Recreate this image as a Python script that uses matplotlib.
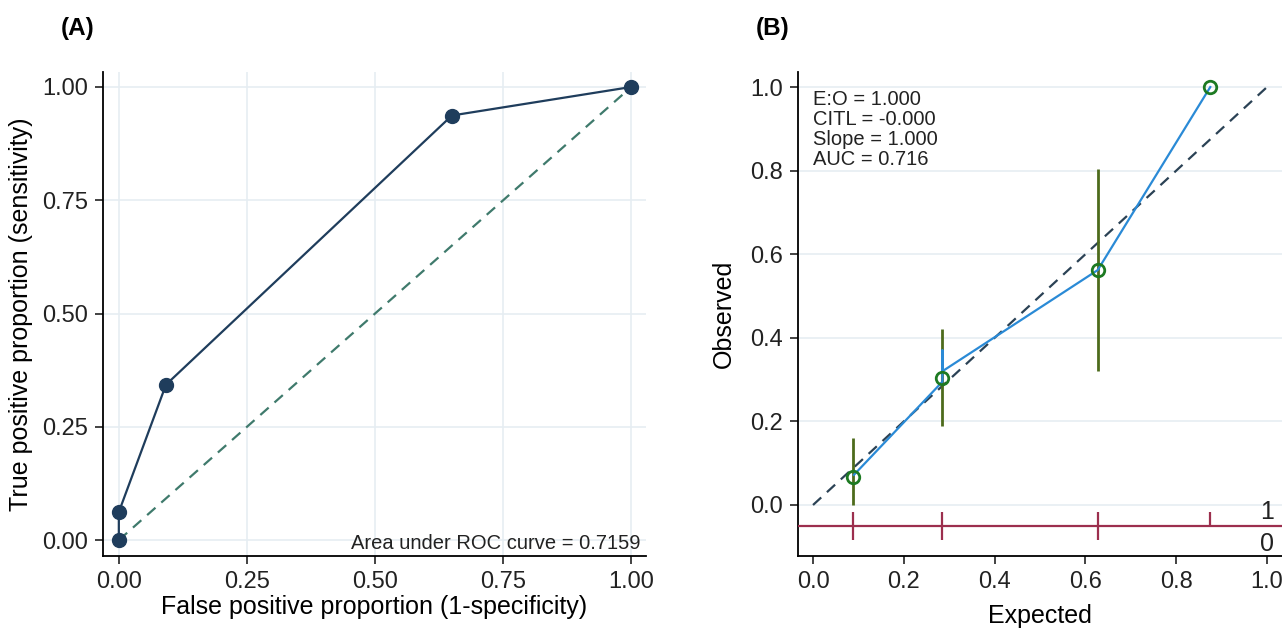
import numpy as np
import matplotlib
matplotlib.use('Agg')
from matplotlib import pyplot as plt

plt.rcParams['font.family'] = ['Liberation Sans', 'DejaVu Sans']

# ROC curve points (panel A)
rocFpr = [0.0, 0.0, 0.092, 0.65, 1.0]
rocTpr = [0.0, 0.062, 0.343, 0.937, 1.0]
rocTicks = [0.0, 0.25, 0.5, 0.75, 1.0]
rocTickLabels = ['0.00', '0.25', '0.50', '0.75', '1.00']
aucText = 'Area under ROC curve = 0.7159'

# calibration groups (panel B)
calExpected = [0.087, 0.285, 0.627, 0.875]
calObserved = [0.068, 0.305, 0.562, 1.0]
ciLow = [0.0, 0.19, 0.32]
ciHigh = [0.16, 0.42, 0.805]
# smoothed line as drawn in the picture
smoothX = [0.09, 0.285, 0.285, 0.285, 0.627, 0.875]
smoothY = [0.072, 0.295, 0.37, 0.32, 0.562, 1.0]
# rug of predicted risks, outcome 1 above, outcome 0 below
rugOne = [0.087, 0.285, 0.627, 0.875]
rugZero = [0.087, 0.285, 0.627]
calStats = ['E:O = 1.000', 'CITL = -0.000', 'Slope = 1.000', 'AUC = 0.716']
calTicks = [0.0, 0.2, 0.4, 0.6, 0.8, 1.0]

gridColor = '#e6edf2'
tickSize = 17
labelSize = 18
noteSize = 14.5

fig = plt.figure(figsize=(12.82, 6.30), dpi=100)

# ---------- panel A ----------
ax1 = fig.add_axes([0.0803, 0.1175, 0.4237, 0.7682])
ax1.set_xlim(-0.031, 1.029)
ax1.set_ylim(-0.035, 1.033)
for t in rocTicks:
    ax1.axhline(t, color=gridColor, lw=1.2, zorder=0)
    ax1.axvline(t, color=gridColor, lw=1.2, zorder=0)
ax1.plot([0, 1], [0, 1], color='#3f7a6c', lw=1.6, ls=(0, (5, 3.5)), zorder=2)
ax1.plot(rocFpr, rocTpr, color='#1f3d5c', lw=1.6, marker='o', markersize=10, zorder=3)
ax1.text(1.018, -0.008, aucText, ha='right', va='center', fontsize=noteSize, color='#222222')
ax1.set_xticks(rocTicks)
ax1.set_xticklabels(rocTickLabels)
ax1.set_yticks(rocTicks)
ax1.set_yticklabels(rocTickLabels)
ax1.set_xlabel('False positive proportion (1-specificity)', fontsize=labelSize, labelpad=1)
ax1.set_ylabel('True positive proportion (sensitivity)', fontsize=labelSize, labelpad=6)
fig.text(0.0475, 0.955, '(A)', fontsize=17.5, fontweight='bold', va='center')

# ---------- panel B ----------
ax2 = fig.add_axes([0.6225, 0.1175, 0.3775, 0.7682])
ax2.set_xlim(-0.033, 1.033)
ax2.set_ylim(-0.122, 1.036)
for t in calTicks:
    ax2.axhline(t, color=gridColor, lw=1.2, zorder=0)
ax2.plot([0, 1], [0, 1], color='#2b4255', lw=1.6, ls=(0, (5, 3.5)), zorder=2)
ax2.vlines(calExpected[:3], ciLow, ciHigh, color='#4d6b1c', lw=2, zorder=3)
ax2.plot(smoothX, smoothY, color='#2a8ad6', lw=1.6, zorder=4)
ax2.plot(calExpected, calObserved, ls='none', marker='o', markersize=9,
         markerfacecolor='none', markeredgecolor='#1d7a22', markeredgewidth=2, zorder=5)
ax2.axhline(-0.05, color='#9c2f4e', lw=1.6, zorder=3)
ax2.vlines(rugOne, -0.05, -0.017, color='#9c2f4e', lw=1.6, zorder=3)
ax2.vlines(rugZero, -0.084, -0.05, color='#9c2f4e', lw=1.6, zorder=3)
ax2.text(1.0, -0.017, '1', ha='center', va='center', fontsize=labelSize, color='#222222')
ax2.text(1.0, -0.094, '0', ha='center', va='center', fontsize=labelSize, color='#222222')
for i, s in enumerate(calStats):
    ax2.text(0.0, 0.970 - i * 0.048, s, ha='left', va='center', fontsize=noteSize, color='#222222')
ax2.set_xticks(calTicks)
ax2.set_xticklabels(['%.1f' % t for t in calTicks])
ax2.set_yticks(calTicks)
ax2.set_yticklabels(['%.1f' % t for t in calTicks])
ax2.set_xlabel('Expected', fontsize=labelSize, labelpad=8)
ax2.set_ylabel('Observed', fontsize=labelSize, labelpad=10)
fig.text(0.5895, 0.955, '(B)', fontsize=17.5, fontweight='bold', va='center')

for ax in (ax1, ax2):
    ax.spines['top'].set_visible(False)
    ax.spines['right'].set_visible(False)
    ax.spines['left'].set_linewidth(1.3)
    ax.spines['bottom'].set_linewidth(1.3)
    ax.tick_params(direction='out', length=6, width=1.2, labelsize=tickSize,
                   colors='#222222', pad=5)

fig.savefig('out.png', dpi=100, facecolor='white')
